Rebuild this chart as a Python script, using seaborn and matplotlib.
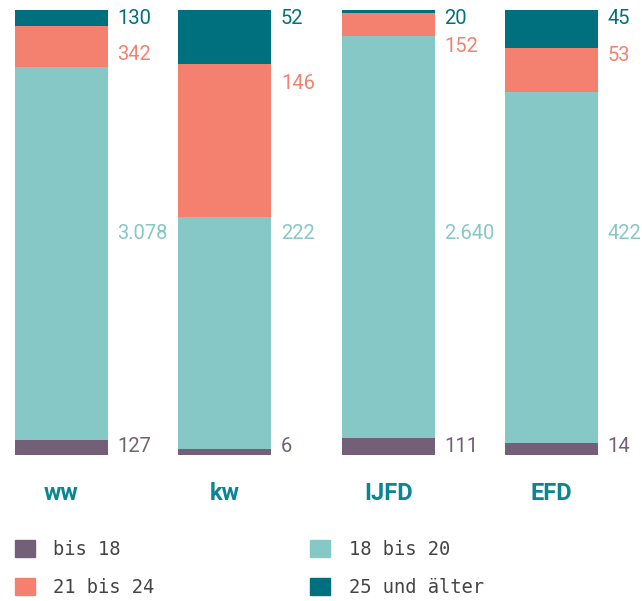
import numpy as np
import matplotlib
matplotlib.use("Agg")
import matplotlib.pyplot as plt
import seaborn as sns
from matplotlib.patches import Patch

# data
categories = ["ww", "kw", "IJFD", "EFD"]
groups = ["bis 18", "18 bis 20", "21 bis 24", "25 und älter"]
bis_18 = [127, 6, 111, 14]
bis_20 = [3078, 222, 2640, 422]
bis_24 = [342, 146, 152, 53]
ab_25 = [130, 52, 20, 45]

colors = ["#736078", "#85C8C5", "#F48170", "#00707F"]
cat_color = "#0A8592"

# label heights (axes fraction) for each stack layer
label_y = [
    [0.018] * 4,
    [0.497] * 4,
    [0.900, 0.835, 0.918, 0.898],
    [0.980] * 4,
]


def fmt(v):
    return f"{v:,}".replace(",", ".")


sns.set_theme(style="white")
num_font = ["Roboto", "DejaVu Sans"]
mono_font = ["DejaVu Sans Mono"]

fig = plt.figure(figsize=(6.42, 6.01), dpi=100)
ax = fig.add_axes([0, 1 - 455 / 601, 1, 445 / 601])

layers = np.array([bis_18, bis_20, bis_24, ab_25], dtype=float)
shares = layers / layers.sum(axis=0)
bottom = np.zeros(len(categories))
for i, grp in enumerate(groups):
    sns.barplot(x=categories, y=shares[i], bottom=bottom, color=colors[i],
                width=0.57, saturation=1, linewidth=0, ax=ax)
    bottom = bottom + shares[i]

ax.set_xlim(-61.5 / 163.33, 3 + 90.5 / 163.33)
ax.set_ylim(0, 1)
ax.axis("off")

trans = ax.get_xaxis_transform()
for i in range(len(groups)):
    for j in range(len(categories)):
        ax.text(j + 0.285 + 0.058, label_y[i][j], fmt(int(layers[i][j])),
                transform=trans, ha="left", va="center", fontsize=14.5,
                color=colors[i], family=num_font)

for j, cat in enumerate(categories):
    ax.text(j, -0.087, cat, transform=trans, ha="center", va="center",
            fontsize=17, fontweight="bold", color=cat_color, family=num_font)

handles = [Patch(color=colors[0]), Patch(color=colors[2]),
           Patch(color=colors[1]), Patch(color=colors[3])]
labels = [groups[0], groups[2], groups[1], groups[3]]
fig.legend(handles, labels, ncol=2, loc="upper left",
           bbox_to_anchor=(15 / 642, 1 - 540 / 601), frameon=False,
           borderaxespad=0, borderpad=0,
           prop={"family": mono_font, "size": 13.5},
           labelcolor="#444444", handlelength=1.05, handleheight=1.05,
           handletextpad=1.0, labelspacing=1.0, columnspacing=8.3)

fig.savefig("out.png", dpi=100)
